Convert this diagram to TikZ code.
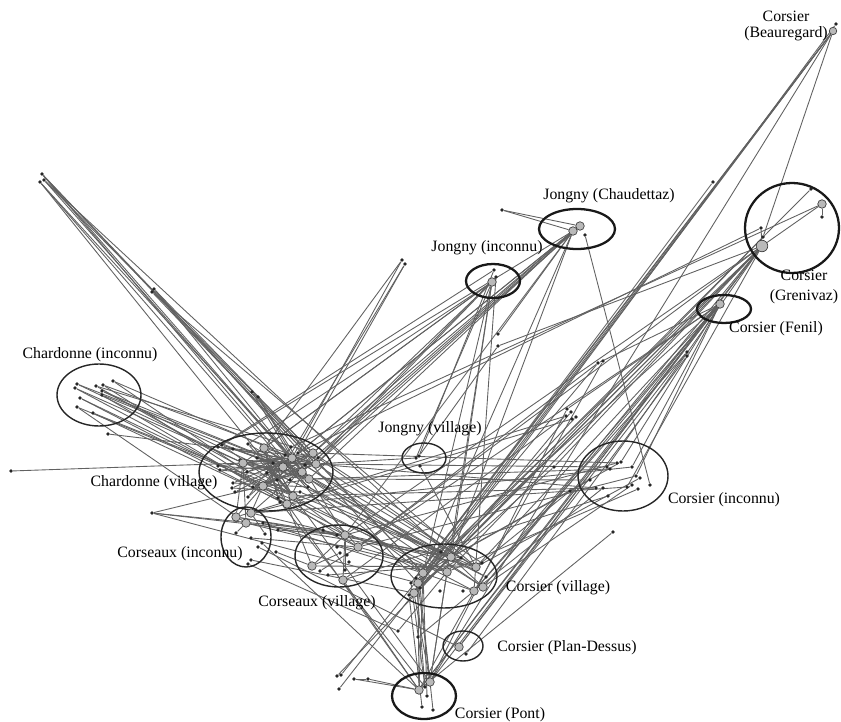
\documentclass[tikz,border=0pt]{standalone}
\usepackage{fontspec}
\setmainfont{Liberation Serif}
\usetikzlibrary{positioning}
\pgfdeclarelayer{bg}
\pgfsetlayers{bg,main}
\tikzset{
    % petits points noirs
    blk/.style={circle, fill=black!85, inner sep=0pt, minimum size=0.075cm},
    % points gris (lieux)
    gry/.style={circle, draw=black!75, fill=gray!55, line width=0.4pt, inner sep=0pt, minimum size=0.17cm},
    link/.style={draw=black!62, line width=0.5pt},
    zone/.style={draw=black!85, line width=0.8pt},
    bzone/.style={draw=black!90, line width=1.3pt},
    lbl/.style={font=\fontsize{9}{11.3}\selectfont, inner sep=0pt, align=center}
}

\begin{document}
\begin{tikzpicture}[x=0.02cm, y=-0.02cm]
	\useasboundingbox (0,0) rectangle (841,722);
	
	% points isoles
	\foreach \x/\y [count=\i] in {42/174,44/180,40/182,154/289,152/292,402/260,405/264,252/392,258/397,108/434,
		11/471,152/513,502/210,498/334,498/346,713/182,687/352,687/356,598/363,603/361,
		567/409,571/412,566/416,572/419,576/417,554/467,570/491,613/532,398/631,418/637,
		337/676,341/675,339/689,354/679,368/679}
		\node[blk] (x\i) at (\x,\y) {};
	
	% Chardonne (inconnu)
	\foreach \x/\y [count=\i] in {77/384,75/388,96/386,103/385,113/381,102/391,102/395,80/398,77/407,93/413}
		\node[blk] (ci\i) at (\x,\y) {};
	
	% Chardonne (village)
	\foreach \x/\y [count=\i] in {218/447,222/445,233/449,218/466,220/470,248/444,291/447,233/483,232/488,235/492,
		248/497,278/498,280/502,300/492,308/487,298/453,273/463,257/458,318/458,247/472,
		267/473,277/480,290/480,253/487,240/460,285/455,305/465}
		\node[blk] (cvb\i) at (\x,\y) {};
	\foreach \x/\y [count=\i] in {243/463,264/448,292/458,313/453,316/464,302/472,309/479,287/504,293/496,263/486,283/467}
		\node[gry] (cvg\i) at (\x,\y) {};
	
	% Jongny
	\node[blk] (jcb1) at (585,235) {};
	\node[gry] (jcg1) at (580,226) {};
	\node[gry] (jcg2) at (573,231) {};
	\node[blk] (jib1) at (494,270) {};
	\node[blk] (jib2) at (496,277) {};
	\node[gry] (jig1) at (492,282) {};
	\foreach \x/\y [count=\i] in {416/458,419/456,420/466}
		\node[blk] (jvb\i) at (\x,\y) {};
	
	% Corsier (haut)
	\node[gry, minimum size=0.23cm] (sgg1) at (762,246) {};
	\node[gry] (sgg2) at (822,204) {};
	\node[blk] (sgb1) at (822,217) {};
	\node[blk] (sgb2) at (811,189) {};
	\node[blk] (sgb3) at (761,228) {};
	\node[blk] (sgb4) at (763,237) {};
	\node[gry] (sfg1) at (720,304) {};
	\node[gry, minimum size=0.15cm] (sbg1) at (833,31) {};
	\node[blk] (sbb1) at (836,24) {};
	
	% Corsier (inconnu)
	\foreach \x/\y [count=\i] in {607/467,610/469,617/463,621/462,632/467,636/476,640/478,632/485,627/487,638/489,
		650/485,596/488,603/488,608/496,590/480}
		\node[blk] (snb\i) at (\x,\y) {};
	
	% Corseaux
	\foreach \x/\y [count=\i] in {236/533,251/538,263/523,278/530,262/543,258/547,251/560,248/564,276/552,265/534}
		\node[blk] (oib\i) at (\x,\y) {};
	\foreach \x/\y [count=\i] in {236/517,246/523,251/513}
		\node[gry] (oig\i) at (\x,\y) {};
	\foreach \x/\y [count=\i] in {323/530,337/535,347/555,349/562,345/570,320/571,328/575,337/547,340/553}
		\node[blk] (ovb\i) at (\x,\y) {};
	\foreach \x/\y [count=\i] in {345/535,358/547,312/566,343/580}
		\node[gry] (ovg\i) at (\x,\y) {};
	
	% Corsier (bas)
	\foreach \x/\y [count=\i] in {441/552,461/558,482/563,486/577,440/591,463/591,411/583,416/578,409/595,420/588}
		\node[blk] (svb\i) at (\x,\y) {};
	\foreach \x/\y [count=\i] in {451/557,476/567,423/573,447/572,474/591,483/587,418/583,414/593}
		\node[gry] (svg\i) at (\x,\y) {};
	\node[gry] (sdg1) at (459,647) {};
	\node[blk] (sdb1) at (466,654) {};
	\foreach \x/\y [count=\i] in {425/687,427/696,422/707,433/710}
		\node[blk] (spb\i) at (\x,\y) {};
	\node[gry] (spg1) at (419,690) {};
	\node[gry] (spg2) at (430,682) {};
	
	\begin{pgfonlayer}{bg}
	% liens
	\foreach \a/\b in {
		x1/cvg5,x1/cvg7,x1/svg3,x1/cvb15,x2/cvg4,x2/cvg6,x2/svg1,x3/cvg9,x3/cvg3,x3/ovg2,
		x4/cvg4,x4/cvg7,x5/cvg5,x5/svg2,x4/svg7,x6/cvg3,x6/cvg2,x7/cvg11,x7/cvb16,
		x8/cvg3,x9/ovg1,x9/cvg6,x8/svg3,x10/cvb3,x11/cvg1,x12/cvg10,x12/ovg1,x12/ovb1,x12/svg7,
		ci1/cvg1,ci1/cvg6,ci2/svg3,ci3/cvg4,ci3/cvg9,ci4/cvg5,ci4/ovg2,ci5/cvg3,ci6/cvg6,ci6/svg1,
		ci7/cvg7,ci7/cvg8,ci8/cvg10,ci8/ovg1,ci9/cvg9,ci9/oig2,ci10/cvg8,ci10/svg2,ci2/cvg1,ci5/cvb20}
		\draw[link] (\a) -- (\b);
	% dans Chardonne (village)
	\foreach \a/\b in {
		cvg1/cvg4,cvg1/cvg5,cvg1/cvg3,cvg1/cvg7,cvg2/cvg6,cvg2/cvg9,cvg2/cvb13,cvg3/cvg10,cvg3/cvb8,cvg4/cvg10,
		cvg4/cvb9,cvg4/cvg8,cvg5/cvb1,cvg5/cvg10,cvg5/cvb24,cvg6/cvb4,cvg6/cvb2,cvg7/cvg2,cvg7/cvb5,cvg8/cvg2,
		cvg9/cvb6,cvg11/cvb3,cvg11/cvb10,cvg11/cvg4,cvb1/cvb19,cvb3/cvg5,cvb4/cvg3,cvb8/cvb15,cvb9/cvb14,cvb10/cvg7,
		cvb12/cvg2,cvb17/cvb11,cvb18/cvg9,cvb20/cvg4,cvb21/cvg3,cvb22/cvb16,cvb23/cvg1,cvb25/cvg5,cvb26/cvb20,cvb27/cvg10,
		cvb6/cvg7,cvb7/cvg10,cvb24/cvg6,cvg1/cvg6,cvg2/cvg5,cvg10/cvg4,cvb5/cvg5,cvb2/cvg9,cvb11/cvg3,cvb25/cvg7,
		cvb18/cvb27,cvb21/cvg8,cvb17/cvg9,cvb12/cvg4}
		\draw[link] (\a) -- (\b);
	% Jongny
	\foreach \a/\b in {
		cvg2/jig1,cvg4/jig1,cvb6/jig1,cvg1/jig1,cvb19/jib2,cvg5/jig1,cvb1/jib1,x14/jcg2,x15/sgg1,
		cvg4/jcg2,cvg3/jcg2,cvb2/jcg2,cvg6/jcg1,x13/jcg1,x13/jcg2,cvb16/jcg2,
		jig1/svg3,jig1/svg1,jib2/svg5,jig1/spg2,jib1/jvb2,
		jcg2/svg1,jcg2/svg8,jcg2/ovg1,jcb1/snb11,jcg2/oig3,jcg2/cvg7,jcg1/cvg5,
		jvb1/jig1,jvb2/x15,jvb3/svg2,jvb1/cvg5}
		\draw[link] (\a) -- (\b);
	% Corsier (haut)
	\foreach \a/\b in {
		sbg1/svg7,sbg1/svg3,sbg1/svb7,sbg1/spg2,sbg1/sgb4,sbb1/svg8,x16/svb8,sbg1/svb8,
		sgg1/svg1,sgg1/svg4,sgg1/svg3,sgg1/spg1,sgg1/ovg2,sgg1/svg6,sgg1/snb9,sgg2/cvb7,sgg2/sgb1,
		sgb2/svg7,sgb3/sgg1,sgg1/x26,sgg1/sdg1,sgg2/sgg1,sgb4/svb10,sgb3/cvb16,sgg1/svg8,sgg1/ovg1,
		sfg1/svg2,sfg1/svg5,sfg1/spg2,sfg1/ovg2,sfg1/x19,sfg1/svg6,sfg1/x21,sfg1/svg3,sfg1/spg1,
		x17/svg5,x17/sdg1,x18/sdb1,x19/svg3,x20/spg1,x19/ovg2,
		x22/svg1,x23/ovg4,x24/cvg8,x25/svg7,x21/spg2,x23/oig1,x26/svb9,x27/svg2,x28/spg1}
		\draw[link] (\a) -- (\b);
	% Corsier (inconnu)
	\foreach \a/\b in {
		snb1/cvg5,snb2/cvg7,snb3/ovg1,snb4/svg1,snb5/cvg8,snb6/ovg2,snb7/svg2,snb8/svg6,snb9/oig3,snb10/svg4,
		snb12/cvg9,snb13/svg5,snb14/ovg4,snb15/svg3,snb4/sfg1,snb6/sfg1,snb1/sgg1,snb5/sfg1,
		cvg4/snb3,cvg5/snb12,cvg7/snb15}
		\draw[link] (\a) -- (\b);
	% Corseaux et Corsier (bas)
	\foreach \a/\b in {
		oig1/ovg1,oig2/svg1,oig3/svg2,oib1/oig2,oib2/ovg2,oib3/svg3,oib4/ovg1,oib5/spg1,oib6/sdg1,oib7/svg8,
		oib8/x29,oig1/cvg1,oig3/cvg10,oib9/ovg3,oib10/oig3,oig2/svg4,oig1/svb2,
		ovg1/svg1,ovg2/svg4,ovg3/ovg1,ovb1/ovg2,ovg3/svg2,ovg4/spg1,ovb5/ovg1,ovb6/ovg2,ovb7/svb3,ovg1/ovg4,ovg3/ovb9,
		svg7/spg1,svg7/spg2,svg3/spg1,svg8/spg2,svb7/spb1,svg3/spb2,svb9/spb3,svb10/spb4,svg4/spg2,svb8/spb1,
		svg1/svg6,svg3/svg5,svb1/svg8,svb2/svg7,
		x31/svg1,x32/svg3,x33/svg8,x34/x35,x35/spg1,x34/spg1,x29/svg4,x30/svg5,
		cvg8/spg1,cvg9/spg2,cvb13/spb1,
		cvg5/svg2,cvg7/svg4,cvg6/svg6,cvg4/svb3,cvg9/svg5,cvb14/svg1,cvb15/svb4,cvg11/svg3,
		cvg3/svg2,cvb19/svb2,cvg6/svb4,cvb27/svg6,cvg7/svb1,cvg10/svg4,
		cvg8/oig3,cvg10/oig1,cvg1/oig2,cvg9/ovg1,cvg8/ovg3}
		\draw[link] (\a) -- (\b);
	
	% zones
	\draw[zone] (99,395) ellipse [x radius=0.84cm, y radius=0.62cm];
	\draw[zone] (266,472) ellipse [x radius=1.34cm, y radius=0.78cm];
	\draw[zone] (424,458) ellipse [x radius=0.44cm, y radius=0.30cm];
	\draw[bzone] (493,281) ellipse [x radius=0.54cm, y radius=0.34cm];
	\draw[bzone] (577,229) ellipse [x radius=0.76cm, y radius=0.40cm];
	\draw[bzone] (792,228) ellipse [x radius=0.94cm, y radius=0.90cm];
	\draw[bzone] (724,309) ellipse [x radius=0.54cm, y radius=0.28cm];
	\draw[zone] (623,476) ellipse [x radius=0.90cm, y radius=0.70cm];
	\draw[zone] (246,537) ellipse [x radius=0.50cm, y radius=0.60cm];
	\draw[zone] (339,556) ellipse [x radius=0.88cm, y radius=0.62cm];
	\draw[zone] (444,576) ellipse [x radius=1.06cm, y radius=0.64cm];
	\draw[zone] (463,646) ellipse [x radius=0.40cm, y radius=0.30cm];
	\draw[bzone] (424,696) ellipse [x radius=0.64cm, y radius=0.46cm];
	\end{pgfonlayer}
	
	% noms
	\node[lbl] (l1) at (90,355) {Chardonne (inconnu)};
	\node[lbl] (l2) at (154,483) {Chardonne (village)};
	\node[lbl] (l3) at (430,429) {Jongny (village)};
	\node[lbl] (l4) at (487,248) {Jongny (inconnu)};
	\node[lbl] (l5) at (609,196) {Jongny (Chaudettaz)};
	\node[lbl] (l6) at (804,287) {Corsier\\(Grenivaz)};
	\node[lbl] (l7) at (776,329) {Corsier (Fenil)};
	\node[lbl] (l8) at (724,500) {Corsier (inconnu)};
	\node[lbl] (l9) at (180,554) {Corseaux (inconnu)};
	\node[lbl] (l10) at (317,603) {Corseaux (village)};
	\node[lbl] (l11) at (558,588) {Corsier (village)};
	\node[lbl] (l12) at (567,648) {Corsier (Plan-Dessus)};
	\node[lbl] (l13) at (500,715) {Corsier (Pont)};
	\node[lbl] (l14) at (786,26) {Corsier\\[-2.5pt](Beauregard)};
\end{tikzpicture}
\end{document}
